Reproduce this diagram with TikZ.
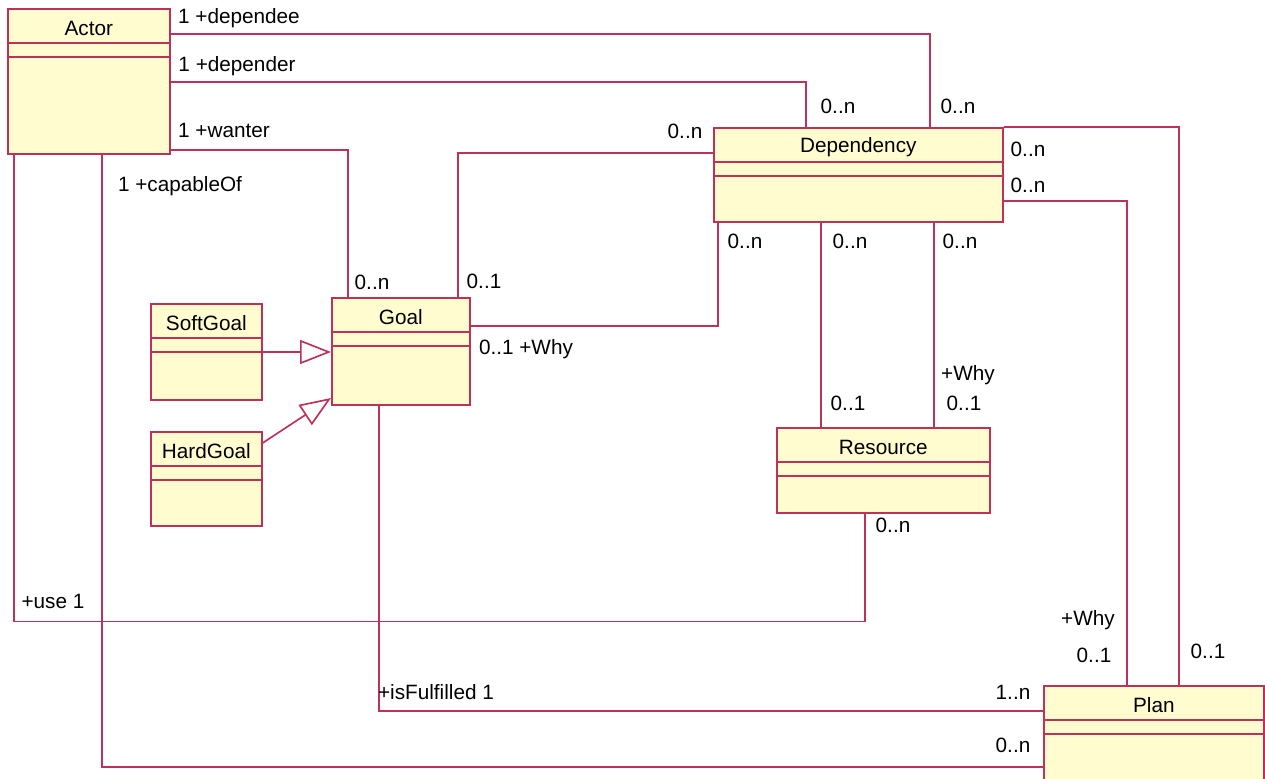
\documentclass[tikz,border=0pt]{standalone}
\usepackage{fontspec}
\setmainfont{Liberation Sans}
\usepackage{xcolor}
\usepackage{tikz}
\usetikzlibrary{arrows.meta,positioning,calc}

\definecolor{umlred}{RGB}{190,50,90}
\definecolor{umlfill}{RGB}{255,252,208}

\begin{document}
\begin{tikzpicture}[
    x=0.02cm, y=-0.02cm,
    font=\fontsize{11.8}{13}\selectfont,
    cls/.style={
        draw=umlred,
        fill=umlfill,
        line width=0.95pt,
        anchor=north west,
        inner sep=0pt
    },
    assoc/.style={draw=umlred, line width=0.95pt},
    gen/.style={assoc, -{Triangle[length=0.62cm,width=0.48cm,fill=white]}},
    mult/.style={inner sep=0pt}
]

\useasboundingbox (0,0) rectangle (1265,778);
\clip (0,0) rectangle (1265,778);

% classes
\node[cls, minimum width=3.24cm, minimum height=2.9cm]  (actor)      at (7,8) {};
\node[cls, minimum width=5.78cm, minimum height=1.88cm] (dependency) at (713,127) {};
\node[cls, minimum width=2.76cm, minimum height=2.14cm] (goal)       at (331,297) {};
\node[cls, minimum width=2.22cm, minimum height=1.92cm] (softgoal)   at (150,303) {};
\node[cls, minimum width=2.22cm, minimum height=1.88cm] (hardgoal)   at (150,431) {};
\node[cls, minimum width=4.26cm, minimum height=1.7cm]  (resource)   at (776,427) {};
\node[cls, minimum width=4.4cm,  minimum height=2.4cm]  (plan)       at (1043,685) {};

\foreach \c/\t in {actor/Actor, dependency/Dependency, goal/Goal, softgoal/SoftGoal,
                   hardgoal/HardGoal, resource/Resource, plan/Plan} {
    \node (\c-title) at ($(\c.north)+(0,20)$) {\t};
    \draw[assoc] ($(\c.north west)+(0,35)$) -- ($(\c.north east)+(0,35)$);
    \draw[assoc] ($(\c.north west)+(0,49)$) -- ($(\c.north east)+(0,49)$);
}

% associations from Actor
\draw[assoc] ($(actor.north east)+(0,26)$) -| ($(dependency.north west)+(217,0)$);
\draw[assoc] ($(actor.north east)+(0,74)$) -| ($(dependency.north west)+(93,0)$);
\draw[assoc] ($(actor.north east)+(0,142)$) -| ($(goal.north west)+(17,0)$);
\draw[assoc] ($(actor.south west)+(95,0)$) |- ($(plan.north west)+(0,82)$);
\draw[assoc] ($(actor.south west)+(7,0)$) -- ++(0,467) -| ($(resource.south west)+(89,0)$);

\node[mult] (m-dependee)  at (239,18)  {1 +dependee};
\node[mult] (m-depender)  at (237,66)  {1 +depender};
\node[mult] (m-wanter)    at (224,130) {1 +wanter};
\node[mult] (m-capable)   at (180,186) {1 +capableOf};
\node[mult] (m-use)       at (53,601)  {+use 1};

% associations from Dependency
\draw[assoc] ($(dependency.north west)+(0,26)$) -| ($(goal.north west)+(127,0)$);
\draw[assoc] ($(dependency.south west)+(5,0)$) |- ($(goal.north east)+(0,29)$);
\draw[assoc] ($(dependency.south west)+(108,0)$) -- ($(resource.north west)+(45,0)$);
\draw[assoc] ($(dependency.south west)+(221,0)$) -- ($(resource.north west)+(158,0)$);
\draw[assoc] (dependency.north east) -| ($(plan.north west)+(136,0)$);
\draw[assoc] ($(dependency.north east)+(0,74)$) -| ($(plan.north west)+(84,0)$);

\node[mult] (m-dep1)  at (838,106)  {0..n};
\node[mult] (m-dep2)  at (958,106)  {0..n};
\node[mult] (m-dep3)  at (685,131)  {0..n};
\node[mult] (m-dep4)  at (1028,149) {0..n};
\node[mult] (m-dep5)  at (1028,185) {0..n};
\node[mult] (m-dep6)  at (745,241)  {0..n};
\node[mult] (m-dep7)  at (850,241)  {0..n};
\node[mult] (m-dep8)  at (960,241)  {0..n};
\node[mult] (m-goal1) at (372,282)  {0..n};
\node[mult] (m-goal2) at (484,281)  {0..1};
\node[mult] (m-goal3) at (526,349)  {0..1 +Why};
\node[mult] (m-res1)  at (968,375)  {+Why};
\node[mult] (m-res2)  at (848,403)  {0..1};
\node[mult] (m-res3)  at (964,403)  {0..1};
\node[mult] (m-res4)  at (893,525)  {0..n};

% Goal to Plan
\draw[assoc] ($(goal.south west)+(48,0)$) |- ($(plan.north west)+(0,26)$);

\node[mult] (m-plan1) at (1088,620) {+Why};
\node[mult] (m-plan2) at (1094,655) {0..1};
\node[mult] (m-plan3) at (1208,651) {0..1};
\node[mult] (m-ful)   at (436,692)  {+isFulfilled 1};
\node[mult] (m-plan4) at (1013,692) {1..n};
\node[mult] (m-plan5) at (1013,745) {0..n};

% generalisations
\draw[gen] ($(softgoal.north east)+(0,49)$) -- ($(goal.north west)+(0,55)$);
\draw[gen] ($(hardgoal.north east)+(0,12)$) -- ($(goal.north west)+(0,101)$);

\end{tikzpicture}
\end{document}
